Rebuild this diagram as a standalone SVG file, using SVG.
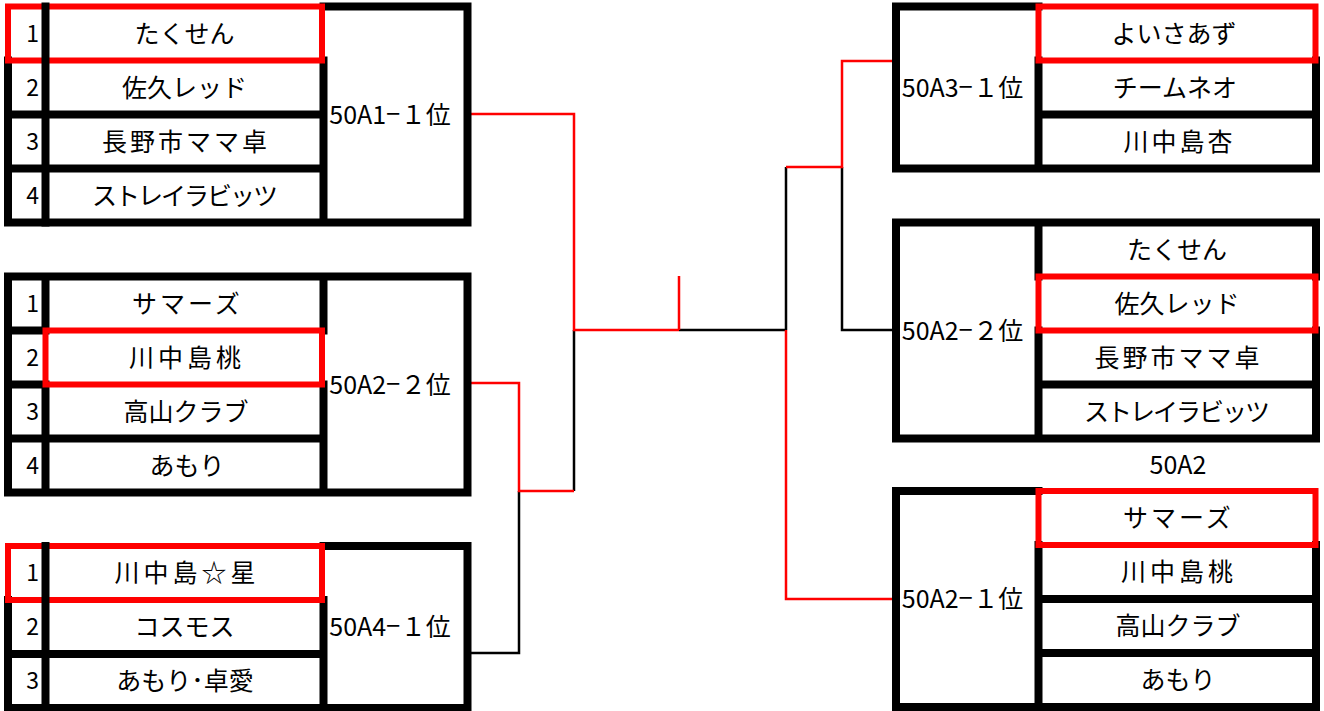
<svg xmlns="http://www.w3.org/2000/svg" width="1324" height="711" viewBox="0 0 1324 711">
<style>
.b{stroke:#000;stroke-width:8;stroke-linecap:square;fill:none}
.r{stroke:#FF0000;stroke-width:6;fill:none}
.cb{stroke:#000;stroke-width:2.5;fill:none}
.cr{stroke:#FF0000;stroke-width:2.5;fill:none}
text{font-family:"Noto Sans CJK JP","Noto Sans CJK SC",sans-serif;fill:#000;dominant-baseline:central;text-anchor:middle;font-size:25px}
text.num{font-size:23px;text-anchor:end}
text.rk{font-size:25px}
.m{font-family:"Liberation Sans",sans-serif}
.w3{letter-spacing:3px}
.w4{letter-spacing:4px}
.n2{letter-spacing:-2px}
</style>
<rect width="1324" height="711" fill="#fff"/>
<g id="connectors">
<path class="cb" d="M574 491V330 M679 330H786 M786 330V167 M842 167V330H892 M471 653H519V491"/>
<path class="cr" d="M471 114H574V330H679 M679 276V330 M471 383H519V491H574 M786 330V599H892 M786 167H842V61H892"/>
</g>
<g id="L1">
<path class="b" d="M323.5 6.5H467.5 M8 60.5V222.5 M323.5 60.5V222.5 M467.5 6.5V222.5 M8 114.5H323.5 M8 168.5H323.5 M8 222.5H467.5"/>
<rect class="r" x="8" y="6.5" width="314" height="54"/>
<path class="b" d="M45.5 6.5V222.5"/>
<text class="num" x="39" y="31.5">1</text>
<text class="num" x="39" y="85.5">2</text>
<text class="num" x="39" y="139.5">3</text>
<text class="num" x="39" y="193.5">4</text>
<text x="184.5" y="31.5">たくせん</text>
<text x="184.5" y="85.5">佐久レッド</text>
<text class="w3" x="186" y="139.5">長野市ママ卓</text>
<text class="n2" x="184" y="193.5">ストレイラビッツ</text>
<text class="rk" x="390" y="112.5">50A1<tspan class="m">−</tspan>１位</text>
</g>
<g id="L2">
<path class="b" d="M8 276.5H467.5 M8 276.5V492.5 M45.5 276.5V330.5 M45.5 384.5V492.5 M323.5 276.5V330.5 M323.5 384.5V492.5 M467.5 276.5V492.5 M8 330.5H45.5 M8 384.5H45.5 M8 438.5H323.5 M8 492.5H467.5"/>
<rect class="r" x="45.5" y="330.5" width="276.5" height="54"/>
<text class="num" x="39" y="301.5">1</text>
<text class="num" x="39" y="355.5">2</text>
<text class="num" x="39" y="409.5">3</text>
<text class="num" x="39" y="463.5">4</text>
<text class="w3" x="187.5" y="301.5">サマーズ</text>
<text class="w4" x="187" y="355.5">川中島桃</text>
<text x="186" y="409.5">高山クラブ</text>
<text x="187" y="463.5">あもり</text>
<text class="rk" x="390" y="382.5">50A2<tspan class="m">−</tspan>２位</text>
</g>
<g id="L3">
<path class="b" d="M323.5 546H467.5 M8 600V708 M323.5 600V708 M467.5 546V708 M8 654H323.5 M8 708H467.5"/>
<rect class="r" x="8" y="546" width="314" height="54"/>
<path class="b" d="M45.5 546V708"/>
<text class="num" x="39" y="571">1</text>
<text class="num" x="39" y="625">2</text>
<text class="num" x="39" y="679">3</text>
<text class="w4" x="187" y="571">川中島☆星</text>
<text x="184.5" y="625">コスモス</text>
<text x="185" y="679">あもり･卓愛</text>
<text class="rk" x="390" y="625">50A4<tspan class="m">−</tspan>１位</text>
</g>
<g id="R1">
<path class="b" d="M896 6.5H1038.5 M896 6.5V168.5 M1038.5 60.5V168.5 M1316 60.5V168.5 M1038.5 114.5H1316 M896 168.5H1316"/>
<rect class="r" x="1038.5" y="6.5" width="277" height="54"/>
<text class="rk" x="962.5" y="85.5">50A3<tspan class="m">−</tspan>１位</text>
<text x="1174" y="31.5">よいさあず</text>
<text x="1175" y="85.5">チームネオ</text>
<text class="w3" x="1179.5" y="139.5">川中島杏</text>
</g>
<g id="R2">
<path class="b" d="M896 222.5H1316 M896 222.5V438.5 M1038.5 222.5V276.5 M1038.5 330.5V438.5 M1316 222.5V276.5 M1316 330.5V438.5 M1038.5 384.5H1316 M896 438.5H1316"/>
<rect class="r" x="1038.5" y="276.5" width="277" height="54"/>
<text class="rk" x="962.5" y="328.5">50A2<tspan class="m">−</tspan>２位</text>
<text x="1177" y="247.5">たくせん</text>
<text x="1177" y="301.5">佐久レッド</text>
<text class="w3" x="1178.5" y="355.5">長野市ママ卓</text>
<text class="n2" x="1176" y="409.5">ストレイラビッツ</text>
</g>
<g id="label50A2">
<text class="rk" x="1178" y="463">50A2</text>
</g>
<g id="R3">
<path class="b" d="M896 491H1038.5 M896 491V707 M1038.5 545V707 M1316 545V707 M1038.5 599H1316 M1038.5 653H1316 M896 707H1316"/>
<rect class="r" x="1038.5" y="491" width="277" height="54"/>
<text class="rk" x="962.5" y="597">50A2<tspan class="m">−</tspan>１位</text>
<text class="w3" x="1178.5" y="516">サマーズ</text>
<text class="w4" x="1179" y="570">川中島桃</text>
<text x="1178" y="624">高山クラブ</text>
<text x="1178" y="678">あもり</text>
</g>
</svg>
